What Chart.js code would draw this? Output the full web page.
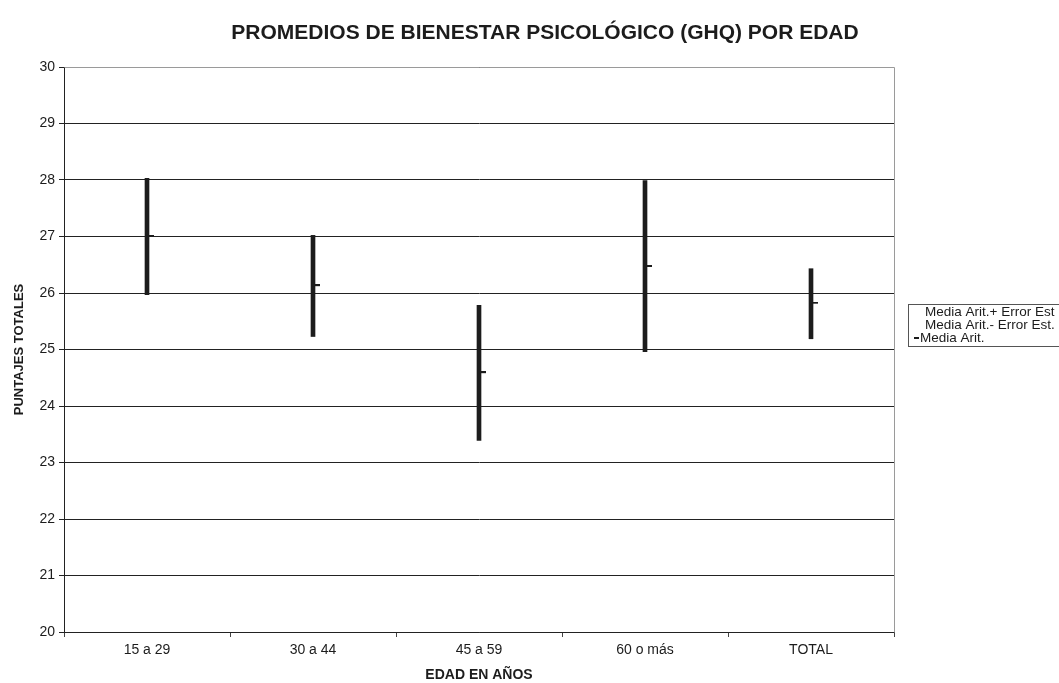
<!DOCTYPE html>
<html>
<head>
<meta charset="utf-8">
<script src="https://cdn.jsdelivr.net/npm/chart.js@4/dist/chart.umd.min.js"></script>
<style>
  html, body { margin: 0; padding: 0; background: #fff; }
  #wrap { width: 1059px; height: 683px; }
</style>
</head>
<body>
<div id="wrap"><canvas id="c" width="1059" height="683"></canvas></div>
<script>
// Age groups and GHQ psychological well-being scores
const categories = ['15 a 29', '30 a 44', '45 a 59', '60 o más', 'TOTAL'];
const upperValues = [28.03, 27.02, 25.78, 27.99, 26.43];   // mean + standard error
const lowerValues = [25.97, 25.23, 23.39, 24.96, 25.19];   // mean - standard error
const meanValues  = [27.00, 26.13, 24.59, 26.47, 25.82];   // arithmetic mean
const yTicks = [20, 21, 22, 23, 24, 25, 26, 27, 28, 29, 30];
const seriesNames = ['Media Arit.+ Error Est', 'Media Arit.- Error Est.', 'Media Arit.'];
const chartTitle = 'PROMEDIOS DE BIENESTAR PSICOLÓGICO (GHQ) POR EDAD';

const FONT = '"Liberation Sans", Arial, sans-serif';
const INK = '#1c1c1c';

// Small dash to the right of the high-low line marks the mean
function meanMarker() {
  const cv = document.createElement('canvas');
  cv.width = 16; cv.height = 3;
  const g = cv.getContext('2d');
  g.fillStyle = INK;
  g.fillRect(8, 0, 7, 2);
  return cv;
}

// Title, outer frame of the plot (top and right edges) and the boxed legend
const framePlugin = {
  id: 'frame',
  beforeDatasetsDraw(chart) {
    const { ctx, chartArea: a } = chart;
    ctx.save();
    ctx.strokeStyle = '#9a9a9a';
    ctx.lineWidth = 1;
    ctx.beginPath();
    ctx.moveTo(Math.round(a.left) + 0.5, Math.round(a.top) + 0.5);
    ctx.lineTo(Math.round(a.right) + 0.5, Math.round(a.top) + 0.5);
    ctx.lineTo(Math.round(a.right) + 0.5, Math.round(a.bottom) + 0.5);
    ctx.stroke();
    ctx.restore();
  },
  afterDraw(chart) {
    const { ctx } = chart;
    ctx.save();
    ctx.fillStyle = INK;
    ctx.font = 'bold 21px ' + FONT;
    ctx.textAlign = 'center';
    ctx.textBaseline = 'middle';
    ctx.fillText(chartTitle, 545, 33);

    const x0 = 908, y0 = 304, rowH = 13;
    ctx.strokeStyle = '#555';
    ctx.lineWidth = 1;
    ctx.strokeRect(x0 + 0.5, y0 + 0.5, 170, 42);
    ctx.font = '13.5px ' + FONT;
    ctx.textAlign = 'left';
    ctx.fillText(seriesNames[0], x0 + 17, y0 + 8);
    ctx.fillText(seriesNames[1], x0 + 17, y0 + 8 + rowH);
    ctx.fillRect(x0 + 6, y0 + 8 + 2 * rowH - 1, 5, 2);
    ctx.fillText(seriesNames[2], x0 + 12, y0 + 8 + 2 * rowH);
    ctx.restore();
  }
};

new Chart(document.getElementById('c'), {
  data: {
    labels: categories,
    datasets: [
      {
        type: 'bar',
        label: seriesNames[0] + ' / ' + seriesNames[1],
        data: categories.map((_, i) => [lowerValues[i], upperValues[i]]),
        backgroundColor: INK,
        borderWidth: 0,
        barThickness: 4,
        grouped: false,
        order: 2
      },
      {
        type: 'line',
        label: seriesNames[2],
        data: meanValues,
        showLine: false,
        pointStyle: meanMarker(),
        pointRadius: 4,
        pointHoverRadius: 4,
        order: 1
      }
    ]
  },
  plugins: [framePlugin],
  options: {
    responsive: false,
    animation: false,
    devicePixelRatio: 1,
    layout: { padding: { left: 0, right: 165, top: 67, bottom: 0 } },
    plugins: {
      legend: { display: false },
      tooltip: { enabled: false },
      title: { display: false }
    },
    scales: {
      x: {
        type: 'category',
        offset: true,
        grid: {
          offset: true,
          drawOnChartArea: false,
          drawTicks: true,
          tickLength: 5,
          color: '#444'
        },
        border: { color: '#222', width: 1 },
        ticks: { color: INK, font: { family: FONT, size: 14 }, padding: 5 },
        title: {
          display: true,
          text: 'EDAD EN AÑOS',
          color: INK,
          font: { family: FONT, size: 14, weight: 'bold' },
          padding: { top: 4, bottom: -1 }
        },
        afterFit(s) { s.height = 51; }
      },
      y: {
        type: 'linear',
        min: 20,
        max: 30,
        afterBuildTicks(s) { s.ticks = yTicks.map(v => ({ value: v })); },
        grid: {
          color: '#222',
          lineWidth: 1,
          drawTicks: true,
          tickLength: 5
        },
        border: { color: '#222', width: 1 },
        ticks: { color: INK, font: { family: FONT, size: 14 }, padding: 4 },
        title: {
          display: true,
          text: 'PUNTAJES TOTALES',
          color: INK,
          font: { family: FONT, size: 13, weight: 'bold' },
          padding: { top: 12, bottom: 4 }
        },
        afterFit(s) { s.width = 64; }
      }
    }
  }
});
</script>
</body>
</html>
